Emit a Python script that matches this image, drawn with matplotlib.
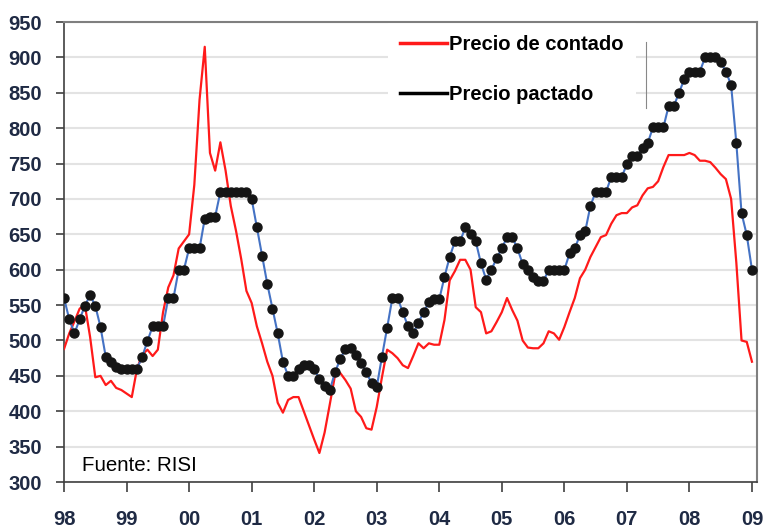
import numpy as np
import matplotlib.pyplot as plt
from matplotlib.lines import Line2D

# precios mensuales ene-98 .. ene-09
pactado = [560, 530, 510, 530, 549, 564, 549, 519, 477, 470, 462, 460,
           460, 460, 460, 477, 499, 520, 520, 520, 560, 560, 600, 600,
           630, 630, 630, 672, 675, 675, 710, 710, 710, 710, 710, 710,
           700, 660, 620, 580, 545, 510, 470, 450, 450, 460, 465, 465,
           460, 445, 436, 430, 455, 474, 488, 490, 480, 468, 455, 440,
           434, 477, 518, 560, 560, 540, 520, 510, 525, 540, 554, 558,
           558, 590, 618, 640, 640, 660, 651, 640, 609, 586, 600, 616,
           630, 646, 646, 630, 608, 600, 590, 584, 584, 600, 600, 600,
           600, 623, 630, 649, 654, 690, 710, 710, 710, 731, 731, 731,
           749, 760, 760, 772, 779, 801, 801, 801, 831, 831, 850, 869,
           880, 880, 880, 900, 900, 900, 893, 880, 861, 779, 680, 649,
           600]

contado = [488, 510, 527, 545, 550, 505, 448, 450, 437, 443, 433, 430,
           425, 420, 460, 480, 487, 478, 487, 540, 575, 592, 630, 640,
           650, 720, 840, 915, 765, 740, 780, 740, 690, 655, 615, 570,
           553, 520, 496, 470, 450, 412, 398, 416, 420, 420, 400, 380,
           360, 341, 370, 410, 451, 454, 444, 432, 400, 392, 376, 374,
           406, 448, 487, 482, 475, 465, 461, 478, 496, 489, 496, 494,
           494, 529, 585, 598, 614, 614, 600, 547, 540, 510, 513, 526,
           540, 560, 543, 528, 500, 490, 489, 489, 496, 513, 510, 501,
           519, 540, 560, 588, 600, 618, 632, 646, 649, 665, 677, 680,
           680, 688, 691, 705, 715, 717, 725, 745, 762, 762, 762, 762,
           765, 762, 754, 754, 752, 744, 735, 728, 700, 610, 500, 498,
           470]

anios = ['98', '99', '00', '01', '02', '03', '04', '05', '06', '07', '08', '09']

plt.rcParams['font.family'] = ['Liberation Sans', 'DejaVu Sans']

x = np.arange(len(pactado)) / 12.0

fig = plt.figure(figsize=(7.65, 5.28), dpi=100)
ax = fig.add_axes([0.0837, 0.0871, 0.9058, 0.8712])

ax.plot(x, contado, color='#ff1a1a', lw=1.6, zorder=3)
ax.plot(x, pactado, color='#4472c4', lw=1.5, zorder=4)
ax.plot(x, pactado, 'o', color='#151515', ms=6.5, zorder=5)

ax.set_xlim(0, 11.08)
ax.set_ylim(300, 950)
ax.set_yticks(np.arange(300, 951, 50))
ax.set_xticks(np.arange(len(anios)))
ax.set_xticklabels(anios)
ax.yaxis.grid(True, color='#e3e3e3', lw=1.5)
ax.set_axisbelow(True)

for s in ['left', 'bottom']:
    ax.spines[s].set_color('#404040')
    ax.spines[s].set_linewidth(1.2)
for s in ['top', 'right']:
    ax.spines[s].set_color('#7f7f7f')
    ax.spines[s].set_linewidth(1.5)

ax.tick_params(axis='y', length=6, width=1.2, color='#404040', pad=10,
               labelsize=14.5, labelcolor='#1f2a44')
ax.tick_params(axis='x', length=7, width=1.2, color='#404040', pad=13,
               labelsize=14.5, labelcolor='#1f2a44')
for lab in ax.get_xticklabels() + ax.get_yticklabels():
    lab.set_fontweight('bold')

handles = [Line2D([], [], color='#ff1a1a', lw=2.5),
           Line2D([], [], color='black', lw=2.5)]
leg = ax.legend(handles, ['Precio de contado', 'Precio pactado'],
                loc='upper left', bbox_to_anchor=(0.467, 0.997),
                prop={'weight': 'bold', 'size': 14.5}, handlelength=2.35,
                handletextpad=0.12, labelspacing=1.5, borderpad=0.6,
                frameon=True, fancybox=False, borderaxespad=0.0)
leg.get_frame().set_facecolor('white')
leg.get_frame().set_edgecolor('none')
leg.get_frame().set_alpha(1)
leg.set_zorder(2.2)
ax.plot([0.84, 0.84], [0.813, 0.957], transform=ax.transAxes,
        color='#888888', lw=0.8, zorder=6)

ax.text(0.026, 0.016, 'Fuente: RISI', transform=ax.transAxes,
        fontsize=14.8, color='black', ha='left', va='bottom')

fig.savefig('out.png', dpi=100)
